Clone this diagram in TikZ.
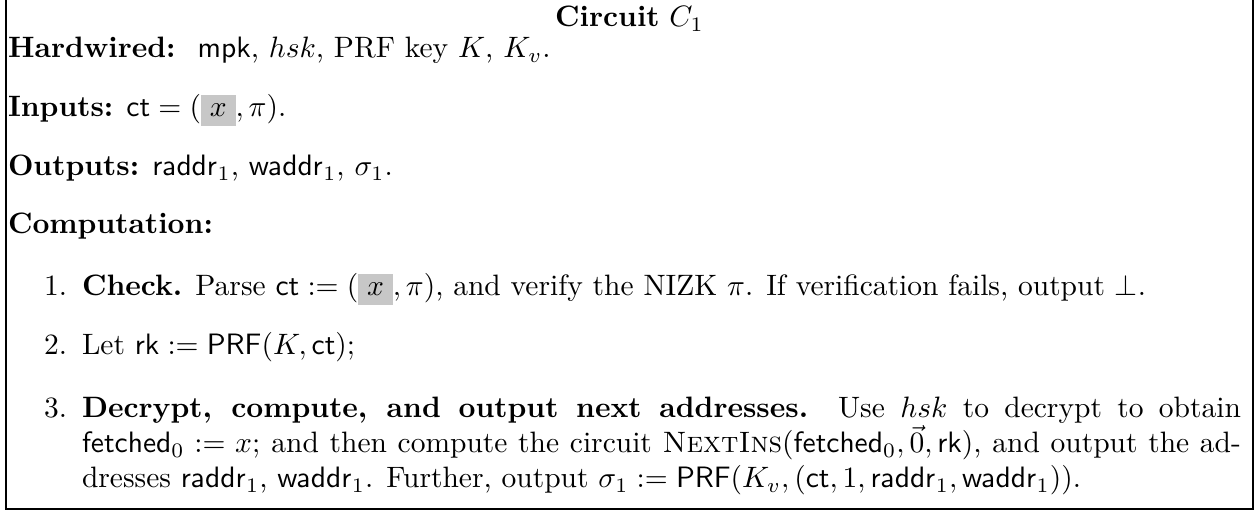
\documentclass[tikz,border=0pt]{standalone}
\usepackage{amsmath,amssymb}
\newlength\pxu \setlength\pxu{0.339pt}
\definecolor{hl}{gray}{0.78}
\tikzset{
  txt/.style={anchor=base west, inner sep=0pt, outer sep=0pt},
  num/.style={anchor=base east, inner sep=0pt, outer sep=0pt},
  frame/.style={line width=0.6pt}
}
\begin{document}
\begin{tikzpicture}[x=\pxu,y=-\pxu]
\useasboundingbox (0,0) rectangle (1257,512);
\coordinate (tl) at (6,0);
\coordinate (bl) at (6,509);
\coordinate (br) at (1253,509);
\coordinate (tr) at (1253,0);
\draw[frame] (tl) -- (bl) -- (br) -- (tr);
\node[anchor=base, inner sep=0pt] (title) at (629.5,27) {\textbf{Circuit} $C_1$};
\node[txt] (hw) at (8,58) {\textbf{Hardwired:}\hspace{7.5pt}$\mathsf{mpk}$, $hsk$, PRF key $K$, $K_v$.};
\node[txt] (in) at (8,117) {\textbf{Inputs:} $\mathsf{ct} = (\colorbox{hl}{$x$}, \pi)$.};
\node[txt] (out) at (8,176) {\textbf{Outputs:} $\mathsf{raddr}_1$, $\mathsf{waddr}_1$, $\sigma_1$.};
\node[txt] (comp) at (8,234) {\textbf{Computation:}};
\node[num] (n1) at (67,296) {1.};
\node[txt] (i1) at (82,296) {\textbf{Check.} Parse $\mathsf{ct} := (\colorbox{hl}{$x$}, \pi)$, and verify the NIZK $\pi$. If verification fails, output $\perp$.};
\node[num] (n2) at (67,355) {2.};
\node[txt] (i2) at (82,355) {Let $\mathsf{rk} := \mathsf{PRF}(K, \mathsf{ct})$;};
\node[num] (n3) at (67,418) {3.};
\node[txt] (i3a) at (82,418) {\makebox[1159\pxu][s]{\textbf{Decrypt, compute, and output next addresses.} Use $hsk$ to decrypt to obtain}};
\node[txt] (i3b) at (82,453) {\makebox[1159\pxu][s]{$\mathsf{fetched}_0 := x$; and then compute the circuit \textsc{NextIns}$(\mathsf{fetched}_0, \vec{0}, \mathsf{rk})$, and output the ad-}};
\node[txt] (i3c) at (82,488) {dresses $\mathsf{raddr}_1$, $\mathsf{waddr}_1$. Further, output $\sigma_1 := \mathsf{PRF}(K_v, (\mathsf{ct}, 1, \mathsf{raddr}_1, \mathsf{waddr}_1))$.};
\end{tikzpicture}
\end{document}
